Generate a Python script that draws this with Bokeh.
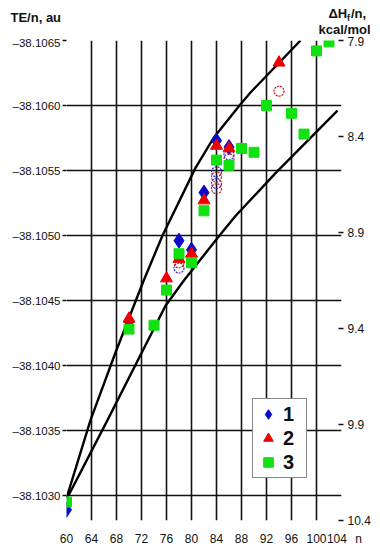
import numpy as np
from bokeh.plotting import figure
from bokeh.layouts import column
from bokeh.models import (Range1d, LinearAxis, FixedTicker, CustomJSTickFormatter,
                          PrintfTickFormatter, Label, Legend, LegendItem)
from bokeh.embed import file_html
from bokeh.resources import INLINE

# ---- axis ticks ----
n_ticks = [60, 64, 68, 72, 76, 80, 84, 88, 92, 96, 100, 104]
te_ticks = [-38.1065, -38.1060, -38.1055, -38.1050, -38.1045, -38.1040, -38.1035, -38.1030]
dh_ticks = [7.9, 8.4, 8.9, 9.4, 9.9, 10.4]

# ---- series 1 (blue diamonds) ----
s1_n = [60, 70, 78, 80, 82, 84, 86]
s1_te = [-38.10289, -38.10434, -38.10496, -38.10489, -38.10533, -38.10573, -38.10568]

# ---- series 2 (red triangles) ----
s2_n = [70, 76, 78, 80, 82, 84, 86, 94]
s2_te = [-38.10436, -38.10467, -38.10482, -38.10486, -38.10527, -38.10569, -38.10567, -38.10633]

# ---- series 3 (green squares) ----
s3_n = [60, 70, 74, 76, 78, 80, 82, 84, 86, 88, 90, 92, 96, 98, 100, 102]
s3_te = [-38.10295, -38.10428, -38.10431, -38.10458, -38.10486, -38.10479, -38.10519,
         -38.10558, -38.10554, -38.10567, -38.10564, -38.10600, -38.10594, -38.10578,
         -38.10642, -38.10649]

# ---- open (dashed) circles ----
h1_n = [78, 84, 84, 86]
h1_te = [-38.10475, -38.10549, -38.10540, -38.10562]
h2_n = [78, 84, 84, 86, 94]
h2_te = [-38.10479, -38.10545, -38.10536, -38.10559, -38.10611]

# ---- boundary curves ----
up_n = [60.0, 63.84, 67.84, 72.32, 75.36, 80.64, 83.52, 87.84, 89.44, 97.44]
up_te = [-38.10298, -38.10358, -38.10410, -38.10465, -38.10500, -38.10552, -38.10575,
         -38.10601, -38.10610, -38.10650]
lo_n = [60.32, 66.56, 75.84, 78.72, 84.48, 87.04, 93.44, 103.36]
lo_te = [-38.10300, -38.10358, -38.10446, -38.10465, -38.10500, -38.10515, -38.10548,
         -38.10596]

FONT = "Liberation Sans"
INK = "#111111"
HEAD_H = 36

# ---------- header strip carrying the axis titles ----------
head = figure(width=380, height=HEAD_H, output_backend="svg", toolbar_location=None,
              x_range=Range1d(0, 380), y_range=Range1d(HEAD_H, 0),
              x_axis_type=None, y_axis_type=None, min_border=0, frame_align=False)
head.title.visible = False
head.grid.visible = False
head.outline_line_color = None
head.background_fill_color = "white"
head.border_fill_color = "white"

def hlab(text, x, y, size="13px"):
    head.add_layout(Label(text=text, x=x, y=y, text_font=FONT, text_font_style="bold",
                          text_font_size=size, text_align="left", text_baseline="middle",
                          text_color=INK))

hlab("TE/n, au", 10, 17)
hlab("\u0394H", 328, 13)
hlab("f", 346.5, 17, size="9px")
hlab("/n,", 350.5, 13)
hlab("kcal/mol", 318, 28.5)

# ---------- main chart ----------
p = figure(width=380, height=550 - HEAD_H, output_backend="svg", toolbar_location=None,
           x_range=Range1d(60, 104), y_range=Range1d(-38.1028077, -38.1065),
           min_border_left=66, min_border_right=39, min_border_top=40 - HEAD_H,
           min_border_bottom=30, frame_align=False)
p.title.visible = False
p.outline_line_color = None
p.background_fill_color = "white"
p.border_fill_color = "white"

# grid
p.xgrid.ticker = FixedTicker(ticks=n_ticks)
p.ygrid.ticker = FixedTicker(ticks=te_ticks)
for g in (p.xgrid, p.ygrid):
    g.grid_line_color = INK
    g.grid_line_width = 1.6

# bottom axis ("n" sits after the last tick label)
xa = p.xaxis[0]
xa.ticker = FixedTicker(ticks=n_ticks)
xa.major_label_overrides = {104: "\u2002104\u2002\u2009n"}
xa.axis_line_color = None
xa.major_tick_line_color = None
xa.minor_tick_line_color = None
xa.major_label_standoff = 5
xa.major_label_text_font = FONT
xa.major_label_text_font_size = "12px"
xa.major_label_text_color = INK

# left axis
ya = p.yaxis[0]
ya.ticker = FixedTicker(ticks=te_ticks)
ya.formatter = CustomJSTickFormatter(code="return '\u2013' + Math.abs(tick).toFixed(4);")
ya.axis_line_color = None
ya.major_tick_in = 0
ya.major_tick_out = 4
ya.major_tick_line_color = INK
ya.major_tick_line_width = 1.6
ya.minor_tick_line_color = None
ya.major_label_standoff = 2
ya.major_label_text_font = FONT
ya.major_label_text_font_size = "11.5px"
ya.major_label_text_color = INK

# right axis (enthalpy)
p.extra_y_ranges = {"dh": Range1d(start=10.4, end=7.9)}
ra = LinearAxis(y_range_name="dh", ticker=FixedTicker(ticks=dh_ticks),
                formatter=PrintfTickFormatter(format="%.1f"))
ra.axis_line_color = None
ra.major_tick_in = 3
ra.major_tick_out = 2
ra.major_tick_line_color = INK
ra.major_tick_line_width = 1.4
ra.minor_tick_line_color = None
ra.major_label_standoff = 4
ra.major_label_text_font = FONT
ra.major_label_text_font_size = "12px"
ra.major_label_text_color = INK
p.add_layout(ra, "right")

# curves
p.line(up_n, up_te, line_color="black", line_width=2.4)
p.line(lo_n, lo_te, line_color="black", line_width=2.4)

# open circles
p.scatter(h1_n, h1_te, marker="circle", size=10, fill_color=None,
          line_color="#2a2ad0", line_dash="2 1", line_width=1.2)
p.scatter(h2_n, h2_te, marker="circle", size=10, fill_color=None,
          line_color="#c02020", line_dash="2 1", line_width=1.2)

# filled series
r1 = p.scatter(s1_n, s1_te, marker="diamond", size=15,
               fill_color="#0a0ac8", line_color="#0a0ac8")
r2 = p.scatter(s2_n, s2_te, marker="triangle", size=12,
               fill_color="#ee0000", line_color="#ee0000")
r3 = p.scatter(s3_n, s3_te, marker="square", size=10,
               fill_color="#11e011", line_color="#11e011")

legend = Legend(items=[LegendItem(label="1", renderers=[r1]),
                       LegendItem(label="2", renderers=[r2]),
                       LegendItem(label="3", renderers=[r3])],
                location=(186, 42), orientation="vertical",
                glyph_width=24, glyph_height=24, label_height=24, label_width=20,
                padding=3, spacing=0, label_standoff=3, margin=0,
                label_text_font=FONT, label_text_font_style="bold",
                label_text_font_size="20px", label_text_color=INK,
                border_line_color=INK, border_line_width=1.3,
                background_fill_color="white", background_fill_alpha=1.0)
p.add_layout(legend)

layout = column(head, p, spacing=0)
open("out.html", "w").write(file_html(layout, INLINE))
